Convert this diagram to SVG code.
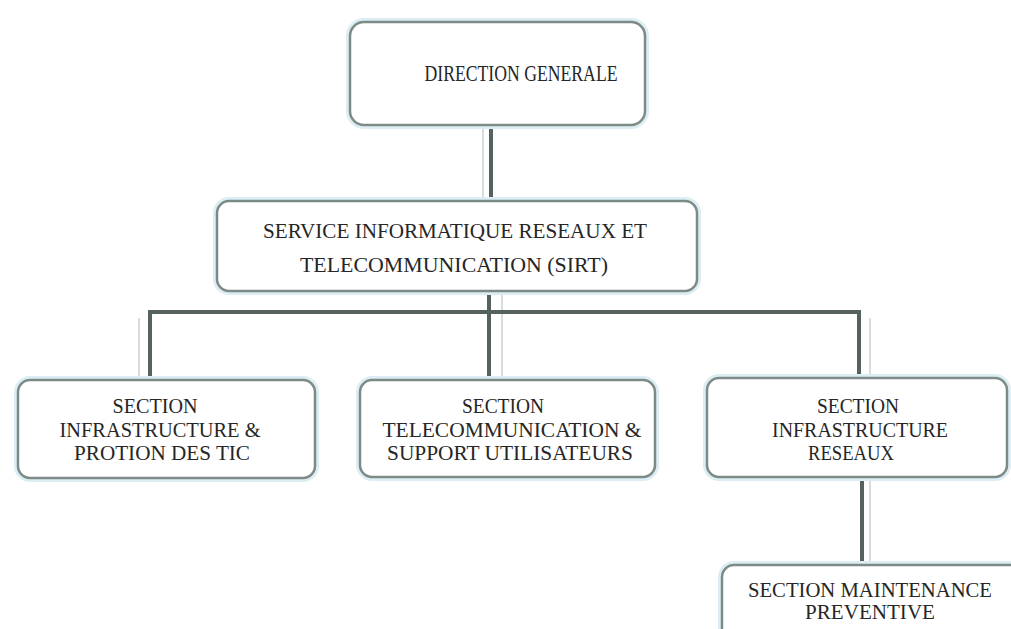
<svg xmlns="http://www.w3.org/2000/svg" width="1011" height="629" viewBox="0 0 1011 629">
  <style>
    .halo { fill: none; stroke: #dcedf3; stroke-width: 8; }
    .box { fill: #ffffff; stroke: #7d8b86; stroke-width: 2.5; }
    .lbl { font-family: "Liberation Serif", "Times New Roman", serif; font-size: 22px; fill: #262626; text-anchor: middle; }
    .big { font-size: 24px; }
    .small { font-size: 20px; }
    .wire { fill: none; stroke: #55625d; stroke-width: 4; stroke-linecap: butt; }
    .wire-shade { fill: none; stroke: #d6dedb; stroke-width: 2; }
  </style>
  <rect width="1011" height="629" fill="#ffffff"/>

  <!-- connectors -->
  <g id="connectors">
    <line class="wire-shade" x1="483" y1="126" x2="483" y2="200"/>
    <line class="wire-shade" x1="502" y1="292" x2="502" y2="378"/>
    <line class="wire-shade" x1="139" y1="318" x2="139" y2="378"/>
    <line class="wire-shade" x1="870" y1="318" x2="870" y2="378"/>
    <line class="wire-shade" x1="870" y1="478" x2="870" y2="564"/>
    <line class="wire" x1="491" y1="125" x2="491" y2="201"/>
    <line class="wire" x1="489" y1="290" x2="489" y2="380"/>
    <polyline class="wire" points="150,380 150,312 859,312 859,379"/>
    <line class="wire" x1="862" y1="476" x2="862" y2="566"/>
  </g>

  <g id="direction-generale">
    <rect class="halo" x="350" y="22" width="295" height="103" rx="14"/>
    <rect class="box" x="350" y="22" width="295" height="103" rx="14"/>
    <text class="lbl big" x="521" y="81" textLength="193" lengthAdjust="spacingAndGlyphs">DIRECTION GENERALE</text>
  </g>

  <g id="sirt">
    <rect class="halo" x="217" y="201" width="480" height="90" rx="12"/>
    <rect class="box" x="217" y="201" width="480" height="90" rx="12"/>
    <text class="lbl" x="455" y="238" textLength="384" lengthAdjust="spacingAndGlyphs">SERVICE INFORMATIQUE RESEAUX ET</text>
    <text class="lbl" x="454" y="272" textLength="308" lengthAdjust="spacingAndGlyphs">TELECOMMUNICATION (SIRT)</text>
  </g>

  <g id="section-infrastructure-tic">
    <rect class="halo" x="18" y="380" width="297" height="98" rx="12"/>
    <rect class="box" x="18" y="380" width="297" height="98" rx="12"/>
    <text class="lbl" x="155" y="413" textLength="85" lengthAdjust="spacingAndGlyphs">SECTION</text>
    <text class="lbl" x="160" y="437" textLength="201" lengthAdjust="spacingAndGlyphs">INFRASTRUCTURE &amp;</text>
    <text class="lbl" x="162" y="460" textLength="176" lengthAdjust="spacingAndGlyphs">PROTION DES TIC</text>
  </g>

  <g id="section-telecommunication">
    <rect class="halo" x="360" y="380" width="295" height="97" rx="12"/>
    <rect class="box" x="360" y="380" width="295" height="97" rx="12"/>
    <text class="lbl" x="503" y="413" textLength="82" lengthAdjust="spacingAndGlyphs">SECTION</text>
    <text class="lbl" x="512" y="437" textLength="259" lengthAdjust="spacingAndGlyphs">TELECOMMUNICATION &amp;</text>
    <text class="lbl" x="510" y="460" textLength="246" lengthAdjust="spacingAndGlyphs">SUPPORT UTILISATEURS</text>
  </g>

  <g id="section-infrastructure-reseaux">
    <rect class="halo" x="707" y="378" width="300" height="99" rx="12"/>
    <rect class="box" x="707" y="378" width="300" height="99" rx="12"/>
    <text class="lbl" x="858" y="413" textLength="82" lengthAdjust="spacingAndGlyphs">SECTION</text>
    <text class="lbl" x="860" y="437" textLength="176" lengthAdjust="spacingAndGlyphs">INFRASTRUCTURE</text>
    <text class="lbl" x="851" y="460" textLength="86" lengthAdjust="spacingAndGlyphs">RESEAUX</text>
  </g>

  <g id="section-maintenance">
    <rect class="halo" x="722" y="565" width="310" height="90" rx="12"/>
    <rect class="box" x="722" y="565" width="310" height="90" rx="12"/>
    <text class="lbl small" x="870" y="597" textLength="244" lengthAdjust="spacingAndGlyphs">SECTION MAINTENANCE</text>
    <text class="lbl small" x="870" y="619" textLength="130" lengthAdjust="spacingAndGlyphs">PREVENTIVE</text>
  </g>
</svg>
